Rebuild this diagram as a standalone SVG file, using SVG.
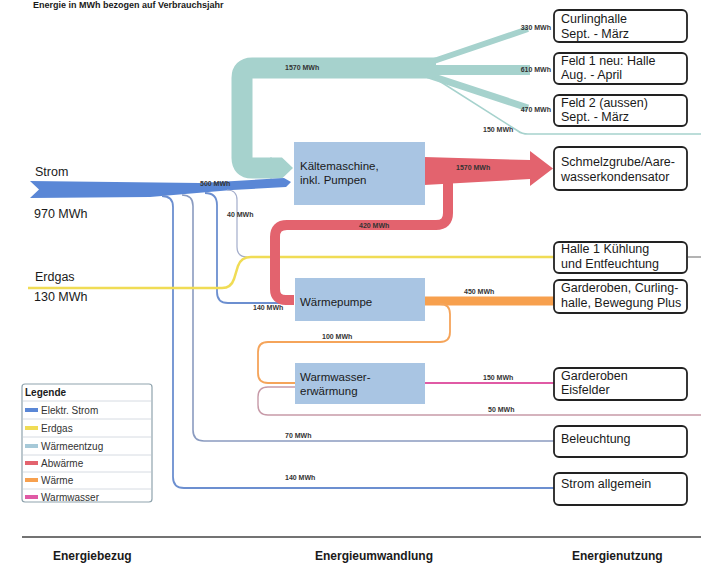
<svg xmlns="http://www.w3.org/2000/svg" width="701" height="586" viewBox="0 0 701 586">
<style>
text{font-family:"Liberation Sans",Arial,sans-serif;fill:#1a1a1a}
.fl{font-size:7px;font-weight:bold;fill:#333}
.bx{font-size:11.5px}
.rt{font-size:12.5px}
.lab{font-size:12.5px}
.pbox{fill:#a9c5e3}
.tbox{fill:#fff;stroke:#222;stroke-width:1.8}
.lg{font-size:10px;fill:#333}
.bot{font-size:12px;font-weight:bold}
.sep{stroke:#d6dbe2;stroke-width:1}
</style>
<rect width="701" height="586" fill="#fff"/>
<text x="33" y="8" font-size="9" font-weight="bold">Energie in MWh  bezogen auf Verbrauchsjahr</text>

<g id="connectors" fill="none">
  <!-- Wärmeentzug (teal) -->
  <path d="M436 68 H252 Q242 68 242 78 V158 Q242 168 252 168 H272" stroke="#a6d2cd" stroke-width="21"/>
  <polygon points="270,157.5 282,157.5 293,168 282,178.5 270,178.5" fill="#a6d2cd"/>
  <path d="M428 63 L528 29" stroke="#a6d2cd" stroke-width="6"/>
  <path d="M430 70 H530" stroke="#a6d2cd" stroke-width="10"/>
  <path d="M428 75 L528 108" stroke="#a6d2cd" stroke-width="7"/>
  <path d="M433 77 L518 131 Q522 134 528 134 H701" stroke="#a6d2cd" stroke-width="1.6"/>
  <!-- Strom band -->
  <polygon points="30,181 200,183 284,178 291,182 286,187 232,190 150,197 30,198 39,189.5" fill="#5a87d6"/>
  <path d="M162 196 Q173 196 173 207 V477 Q173 488 184 488 H554" stroke="#6c8fd0" stroke-width="1.8"/>
  <path d="M182 195 Q193 195 193 206 V430 Q193 441 204 441 H554" stroke="#8a9bc0" stroke-width="1.6"/>
  <path d="M205 193 Q217 193 217 205 V292 Q217 303 228 303 H294" stroke="#6c8fd0" stroke-width="1.8"/>
  <path d="M227 190 Q237 190 237 200 V247 Q237 257 247 257" stroke="#a3adcb" stroke-width="1.2"/>
  <!-- Erdgas -->
  <path d="M28 288 H222 Q231 288 234 279 L238 266 Q241 257 251 257 H554" stroke="#f0dc55" stroke-width="2.5"/>
  <path d="M688 257 H701" stroke="#9a9a9a" stroke-width="1.5"/>
  <!-- Abwärme -->
  <polygon points="424,157 530,160 530,151 553,168.5 530,186 530,179 424,185" fill="#e3636e"/>
  <path d="M448 182 V213 Q448 225 436 225 H287 Q275 225 275 237 V289 Q275 300 286 300 H294" stroke="#e3636e" stroke-width="10"/>
  <!-- Wärme -->
  <path d="M424 301 H554" stroke="#f7a04e" stroke-width="9"/>
  <path d="M440 304 Q450 304 450 314 V332 Q450 342 440 342 H268 Q258 342 258 352 V373 Q258 383 268 383 H295" stroke="#f5a45a" stroke-width="1.8"/>
  <!-- Warmwasser -->
  <path d="M425 383 H554" stroke="#e05aa5" stroke-width="1.8"/>
  <path d="M295 387 H268 Q258 387 258 397 V405 Q258 415 268 415 H701" stroke="#c79aa8" stroke-width="1.4"/>
</g>

<g id="flow-labels">
  <text class="fl" x="285" y="70">1570 MWh</text>
  <text class="fl" x="551" y="30" text-anchor="end">330 MWh</text>
  <text class="fl" x="551" y="72" text-anchor="end">610 MWh</text>
  <text class="fl" x="551" y="112" text-anchor="end">470 MWh</text>
  <text class="fl" x="483" y="132">150 MWh</text>
  <text class="fl" x="200" y="186">500 MWh</text>
  <text class="fl" x="227" y="217">40 MWh</text>
  <text class="fl" x="456" y="170">1570 MWh</text>
  <text class="fl" x="359" y="228">420 MWh</text>
  <text class="fl" x="253" y="310">140 MWh</text>
  <text class="fl" x="464" y="294">450 MWh</text>
  <text class="fl" x="322" y="339">100 MWh</text>
  <text class="fl" x="483" y="380">150 MWh</text>
  <text class="fl" x="488" y="412">50 MWh</text>
  <text class="fl" x="285" y="438">70 MWh</text>
  <text class="fl" x="285" y="480">140 MWh</text>
</g>

<g id="strom">
  <text class="lab" x="35" y="176">Strom</text>
  <text class="lab" x="34" y="218">970 MWh</text>
</g>
<g id="erdgas">
  <text class="lab" x="35" y="281">Erdgas</text>
  <text class="lab" x="34" y="301">130 MWh</text>
</g>

<g id="kaeltemaschine">
  <rect class="pbox" x="294" y="142" width="131" height="63"/>
  <text class="bx" x="300" y="170">Kältemaschine,</text>
  <text class="bx" x="300" y="184">inkl. Pumpen</text>
</g>
<g id="waermepumpe">
  <rect class="pbox" x="295" y="278" width="130" height="43"/>
  <text class="bx" x="300" y="306">Wärmepumpe</text>
</g>
<g id="warmwasser">
  <rect class="pbox" x="295" y="363" width="130" height="41"/>
  <text class="bx" x="300" y="381">Warmwasser-</text>
  <text class="bx" x="300" y="395">erwärmung</text>
</g>

<g id="curlinghalle">
  <rect class="tbox" x="554" y="10" width="133" height="32" rx="5"/>
  <text class="rt" x="561" y="22.5">Curlinghalle</text>
  <text class="rt" x="561" y="37.5">Sept. - März</text>
</g>
<g id="feld1">
  <rect class="tbox" x="554" y="53" width="133" height="31" rx="5"/>
  <text class="rt" x="561" y="64.5">Feld 1 neu: Halle</text>
  <text class="rt" x="561" y="79">Aug. - April</text>
</g>
<g id="feld2">
  <rect class="tbox" x="554" y="95" width="133" height="31" rx="5"/>
  <text class="rt" x="561" y="106.5">Feld 2 (aussen)</text>
  <text class="rt" x="561" y="121">Sept. - März</text>
</g>
<g id="schmelzgrube">
  <rect class="tbox" x="554" y="147" width="133" height="43" rx="5"/>
  <text class="rt" x="561" y="165.5">Schmelzgrube/Aare-</text>
  <text class="rt" x="561" y="180.5">wasserkondensator</text>
</g>
<g id="halle1">
  <rect class="tbox" x="554" y="242" width="133" height="31" rx="5"/>
  <text class="rt" x="561" y="252.5">Halle 1 Kühlung</text>
  <text class="rt" x="561" y="267.5">und Entfeuchtung</text>
</g>
<g id="garderoben-curling">
  <rect class="tbox" x="554" y="280" width="133" height="33" rx="5"/>
  <text class="rt" x="561" y="291.5">Garderoben, Curling-</text>
  <text class="rt" x="561" y="306.5">halle, Bewegung Plus</text>
</g>
<g id="garderoben-eisfelder">
  <rect class="tbox" x="554" y="368" width="133" height="32" rx="5"/>
  <text class="rt" x="561" y="379.5">Garderoben</text>
  <text class="rt" x="561" y="393.5">Eisfelder</text>
</g>
<g id="beleuchtung">
  <rect class="tbox" x="554" y="426" width="133" height="31" rx="5"/>
  <text class="rt" x="561" y="442.5">Beleuchtung</text>
</g>
<g id="strom-allgemein">
  <rect class="tbox" x="554" y="473" width="133" height="32" rx="5"/>
  <text class="rt" x="561" y="487.5">Strom allgemein</text>
</g>

<g id="legende">
  <rect x="22" y="384" width="130" height="118" rx="3" fill="#fff" stroke="#8fa3ad" stroke-width="1.2"/>
  <line class="sep" x1="23" y1="401" x2="151" y2="401"/>
  <line class="sep" x1="23" y1="419" x2="151" y2="419"/>
  <line class="sep" x1="23" y1="437" x2="151" y2="437"/>
  <line class="sep" x1="23" y1="455" x2="151" y2="455"/>
  <line class="sep" x1="23" y1="472" x2="151" y2="472"/>
  <line class="sep" x1="23" y1="489" x2="151" y2="489"/>
  <text x="25" y="396" font-size="10" font-weight="bold">Legende</text>
  <rect x="25" y="408" width="13" height="4" fill="#5a87d6"/>
  <text class="lg" x="41" y="413.5">Elektr. Strom</text>
  <rect x="25" y="426" width="13" height="4" fill="#f0dc55"/>
  <text class="lg" x="41" y="431.5">Erdgas</text>
  <rect x="25" y="444" width="13" height="4" fill="#a6c9d8"/>
  <text class="lg" x="41" y="449.5">Wärmeentzug</text>
  <rect x="25" y="461" width="13" height="4" fill="#e3636e"/>
  <text class="lg" x="41" y="466.5">Abwärme</text>
  <rect x="25" y="478" width="13" height="4" fill="#f7a04e"/>
  <text class="lg" x="41" y="483.5">Wärme</text>
  <rect x="25" y="495" width="13" height="4" fill="#e05aa5"/>
  <text class="lg" x="41" y="500.5">Warmwasser</text>
</g>

<g id="footer">
  <line x1="22" y1="537" x2="701" y2="537" stroke="#444" stroke-width="1.5"/>
  <text class="bot" x="53" y="560">Energiebezug</text>
  <text class="bot" x="315" y="560">Energieumwandlung</text>
  <text class="bot" x="572" y="560">Energienutzung</text>
</g>
</svg>
